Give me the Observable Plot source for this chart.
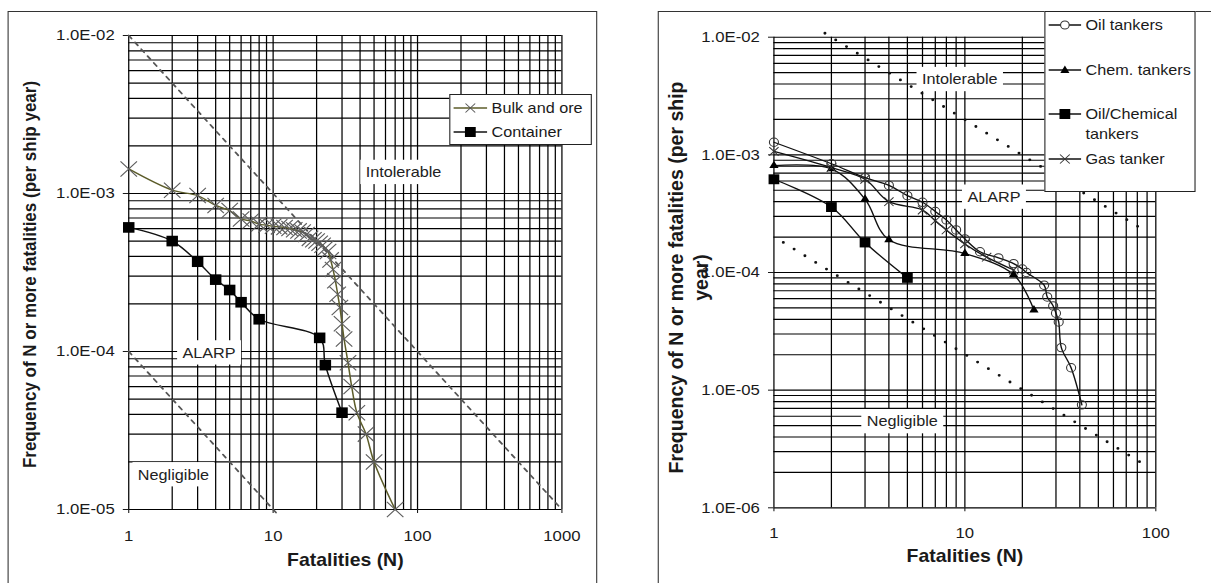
<!DOCTYPE html>
<html><head><meta charset="utf-8">
<script src="https://cdn.jsdelivr.net/npm/d3@7"></script>
<script src="https://cdn.jsdelivr.net/npm/@observablehq/plot@0.6"></script>
<style>
html,body{margin:0;padding:0;background:#fff;overflow:hidden;width:1211px;height:583px;}
#wrap{position:absolute;left:0;top:0;width:1121px;height:583px;transform:scaleX(1.08);transform-origin:0 0;font-family:"Liberation Sans",Arial,sans-serif;}
.panel{position:absolute;top:0;}
.frame{position:absolute;border:1.5px solid #333;box-sizing:border-box;pointer-events:none;}
.legend{position:absolute;background:#fff;border:1.5px solid #222;box-sizing:border-box;font-size:15px;color:#1a1a1a;line-height:20px;}
.item{position:absolute;white-space:nowrap;}
.item svg{position:absolute;left:0;top:0;overflow:visible;}
</style></head><body><div id="wrap"></div><script>
// ---------- Left panel data (bulk carriers / containers) ----------
const bulkN = [1,2,3,4,5,6,7,8,9,10,11,12,13,14,15,16,17,18,19,20,21,22,23,24,25,26,27,28,29,30,31,33,35,38,44,50,70];
const bulkF = [1.43e-3,1.05e-3,9.7e-4,8.4e-4,7.8e-4,6.9e-4,6.7e-4,6.4e-4,6.3e-4,6.2e-4,6.15e-4,6.1e-4,6.0e-4,5.9e-4,5.8e-4,5.7e-4,5.5e-4,5.2e-4,5.1e-4,5.0e-4,4.85e-4,4.7e-4,4.5e-4,4.3e-4,3.8e-4,3.3e-4,2.8e-4,2.3e-4,1.9e-4,1.5e-4,1.2e-4,8.5e-5,6.0e-5,4.1e-5,3.0e-5,2.0e-5,1.0e-5];
const contN = [1,2,3,4,5,6,8,21,23,30];
const contF = [6.1e-4,5.0e-4,3.7e-4,2.85e-4,2.45e-4,2.05e-4,1.6e-4,1.22e-4,8.2e-5,4.1e-5];
const leftUpperN = [1,1000];
const leftUpperF = [1e-2,1e-5];
const leftLowerN = [1,11];
const leftLowerF = [1e-4,9.1e-6];
const leftZones = ["Intolerable","ALARP","Negligible"];
const leftZoneN = [80,3.6,2.04];
const leftZoneF = [1.36e-3,9.8e-5,1.66e-5];
const leftXTicks = [1,10,100,1000];
const leftYTicks = [1e-5,1e-4,1e-3,1e-2];
const leftXDomain = [1,1000];
const leftYDomain = [1e-5,1e-2];
const leftSeries = ["Bulk and ore","Container"];

// ---------- Right panel data (tankers) ----------
const oilN = [1,2,3,4,5,6,7,8,9,10,12,15,18,20,21,26,27,29,30,31,32,36,41];
const oilF = [1.28e-3,8.4e-4,6.4e-4,5.5e-4,4.5e-4,3.95e-4,3.3e-4,2.8e-4,2.3e-4,1.93e-4,1.5e-4,1.33e-4,1.19e-4,1.07e-4,1.0e-4,7.8e-5,6.2e-5,5.2e-5,4.5e-5,3.8e-5,2.3e-5,1.55e-5,7.5e-6];
const chemN = [1,2,3,4,10,18,23];
const chemF = [8.1e-4,7.6e-4,4.2e-4,1.9e-4,1.45e-4,9.6e-5,4.8e-5];
const oilChemN = [1,2,3,5];
const oilChemF = [6.2e-4,3.6e-4,1.8e-4,9.0e-5];
const gasN = [1,2,3,4,6,7,8,10,13,18];
const gasF = [1.07e-3,7.8e-4,6.2e-4,4.0e-4,3.4e-4,2.75e-4,2.3e-4,1.75e-4,1.35e-4,1.05e-4];
const rightUpperN = [1.85,90];
const rightUpperF = [1.08e-2,2.2e-4];
const rightLowerN = [1.12,90];
const rightLowerF = [1.8e-4,2.25e-6];
const rightZones = ["Intolerable","ALARP","Negligible"];
const rightZoneN = [9.4,14.2,4.7];
const rightZoneF = [4.37e-3,4.37e-4,5.4e-6];
const rightXTicks = [1,10,100];
const rightYTicks = [1e-6,1e-5,1e-4,1e-3,1e-2];
const rightXDomain = [1,100];
const rightYDomain = [1e-6,1e-2];
const rightSeries = ["Oil tankers","Chem. tankers","Oil/Chemical\ntankers","Gas tanker"];

const xTitle = "Fatalities (N)";
const yTitleLeft = "Frequency of N or more fatalities (per ship year)";
const yTitleRight = "Frequency of N or more fatalities (per ship\nyear)";

// ---------- helpers ----------
const pts = (N, F) => N.map((n, i) => ({N: n, F: F[i]}));
const zonesOf = (L, N, F) => L.map((l, i) => ({label: l, N: N[i], F: F[i]}));
const fmtE = d => { const e = Math.round(Math.log10(d)); return "1.0E" + (e < 0 ? "-" : "+") + String(Math.abs(e)).padStart(2, "0"); };
const FONT = "Liberation Sans, Arial, sans-serif";
const INK = "#1a1a1a";

function addBoxes(svg) {
  svg.querySelectorAll('g[aria-description="zone-labels"] text').forEach(t => {
    const b = t.getBBox();
    const r = document.createElementNS("http://www.w3.org/2000/svg", "rect");
    r.setAttribute("x", b.x - 5); r.setAttribute("y", b.y - 4);
    r.setAttribute("width", b.width + 10); r.setAttribute("height", b.height + 8);
    r.setAttribute("fill", "#fff"); r.setAttribute("stroke", "none");
    if (t.getAttribute("transform")) r.setAttribute("transform", t.getAttribute("transform"));
    t.parentNode.insertBefore(r, t);
  });
}

function panel(cfg) {
  const xGrid = d3.scaleLog().domain(cfg.xDomain).ticks();
  const yGrid = d3.scaleLog().domain(cfg.yDomain).ticks();
  return Plot.plot({
    width: cfg.width, height: 583,
    marginLeft: cfg.mL, marginRight: cfg.mR, marginTop: cfg.mT, marginBottom: cfg.mB,
    style: {background: "transparent", overflow: "visible", maxWidth: "none", fontFamily: FONT, color: INK},
    x: {type: "log", domain: cfg.xDomain},
    y: {type: "log", domain: cfg.yDomain},
    marks: [
      Plot.ruleX(xGrid, {stroke: "#000", strokeWidth: 1.15}),
      Plot.ruleY(yGrid, {stroke: "#000", strokeWidth: 1.15}),
      Plot.axisY({ticks: cfg.yTicks, tickFormat: fmtE, tickSize: 5, tickPadding: 8, fontSize: 15.5, label: null, color: INK}),
      Plot.axisX({ticks: cfg.xTicks, tickFormat: d => String(d), tickSize: 4, tickPadding: cfg.xPad, fontSize: 15.5, label: null, color: INK}),
      ...cfg.refLines,
      Plot.text(cfg.zones, {x: "N", y: "F", text: "label", fontSize: 15, fill: "#222", ariaDescription: "zone-labels"}),
      ...cfg.series,
      Plot.text([cfg.yTitle], {text: d => d, frameAnchor: "left", textAnchor: "middle", rotate: -90, dx: cfg.yTitleDx, dy: cfg.yTitleDy, fontSize: cfg.yTitleSize, fontWeight: "bold", lineHeight: 1.2, fill: INK}),
      Plot.text([xTitle], {text: d => d, frameAnchor: "bottom", dy: cfg.xTitleDy, fontSize: 18, fontWeight: "bold", fill: INK})
    ]
  });
}

const wrap = document.getElementById("wrap");
function place(svg, left) {
  const d = document.createElement("div");
  d.className = "panel"; d.style.left = left + "px";
  d.appendChild(svg); wrap.appendChild(d);
  addBoxes(svg);
}

// ---------- Left panel ----------
const left = panel({
  width: 560, mL: 118.7, mR: 40.2, mT: 35, mB: 74, xPad: 16.6,
  xDomain: leftXDomain, yDomain: leftYDomain, xTicks: leftXTicks, yTicks: leftYTicks,
  zones: zonesOf(leftZones, leftZoneN, leftZoneF),
  yTitle: yTitleLeft, yTitleDx: -92.7, yTitleDy: 2, yTitleSize: 17, xTitleDy: 56,
  refLines: [
    Plot.line(pts(leftUpperN, leftUpperF), {x: "N", y: "F", stroke: "#555", strokeWidth: 1.7, strokeDasharray: "4,5"}),
    Plot.line(pts(leftLowerN, leftLowerF), {x: "N", y: "F", stroke: "#555", strokeWidth: 1.7, strokeDasharray: "4,5"})
  ],
  series: [
    Plot.line(pts(bulkN, bulkF), {x: "N", y: "F", stroke: "#5c5c2a", strokeWidth: 1.4, curve: "catmull-rom"}),
    Plot.dot(pts(bulkN, bulkF), {x: "N", y: "F", symbol: "times", r: 7, stroke: "#5e5e5e", strokeWidth: 1.1}),
    Plot.line(pts(contN, contF), {x: "N", y: "F", stroke: "#111", strokeWidth: 1.4, curve: "catmull-rom"}),
    Plot.dot(pts(contN, contF), {x: "N", y: "F", symbol: "square", r: 6, fill: "#000", stroke: "none"})
  ]
});
place(left, 0);

// ---------- Right panel ----------
const right = panel({
  width: 521, mL: 116.1, mR: 51.3, mT: 36.7, mB: 75.7, xPad: 15,
  xDomain: rightXDomain, yDomain: rightYDomain, xTicks: rightXTicks, yTicks: rightYTicks,
  zones: zonesOf(rightZones, rightZoneN, rightZoneF),
  yTitle: yTitleRight, yTitleDx: -80.3, yTitleDy: 5, yTitleSize: 19.5, xTitleDy: 54,
  refLines: [
    Plot.line(pts(rightUpperN, rightUpperF), {x: "N", y: "F", stroke: "#111", strokeWidth: 2.8, strokeDasharray: "0,12", strokeLinecap: "round"}),
    Plot.line(pts(rightLowerN, rightLowerF), {x: "N", y: "F", stroke: "#111", strokeWidth: 2.8, strokeDasharray: "0,12", strokeLinecap: "round"})
  ],
  series: [
    Plot.line(pts(oilN, oilF), {x: "N", y: "F", stroke: "#111", strokeWidth: 1.3, curve: "catmull-rom"}),
    Plot.line(pts(chemN, chemF), {x: "N", y: "F", stroke: "#111", strokeWidth: 1.3, curve: "catmull-rom"}),
    Plot.line(pts(oilChemN, oilChemF), {x: "N", y: "F", stroke: "#111", strokeWidth: 1.3, curve: "catmull-rom"}),
    Plot.line(pts(gasN, gasF), {x: "N", y: "F", stroke: "#111", strokeWidth: 1.3, curve: "catmull-rom"}),
    Plot.dot(pts(oilN, oilF), {x: "N", y: "F", symbol: "circle", r: 4.2, fill: "none", stroke: "#333", strokeWidth: 1}),
    Plot.dot(pts(chemN, chemF), {x: "N", y: "F", symbol: "triangle", r: 3.2, fill: "#000", stroke: "none"}),
    Plot.dot(pts(oilChemN, oilChemF), {x: "N", y: "F", symbol: "square", r: 5.6, fill: "#000", stroke: "none"}),
    Plot.dot(pts(gasN, gasF), {x: "N", y: "F", symbol: "times", r: 4, stroke: "#333", strokeWidth: 1})
  ]
});
place(right, 600);

// ---------- frames ----------
function frame(l, t, w, h) {
  const f = document.createElement("div");
  f.className = "frame";
  Object.assign(f.style, {left: l + "px", top: t + "px", width: w + "px", height: h + "px"});
  wrap.appendChild(f);
}
frame(7.1, 11.2, 545.7, 640);
frame(609, 11.2, 700, 640);

// ---------- legends ----------
const symbols = {
  times: (c) => `<line x1="-4.5" y1="-4.5" x2="4.5" y2="4.5" stroke="${c}"/><line x1="-4.5" y1="4.5" x2="4.5" y2="-4.5" stroke="${c}"/>`,
  square: () => `<rect x="-5" y="-5" width="10" height="10" fill="#000"/>`,
  circle: () => `<circle r="4" fill="#fff" stroke="#333"/>`,
  triangle: () => `<path d="M0,-4.5L4.2,3L-4.2,3Z" fill="#000"/>`
};
function legend(box, items) {
  const lg = document.createElement("div");
  lg.className = "legend";
  Object.assign(lg.style, {left: box.l + "px", top: box.t + "px", width: box.w + "px", height: box.h + "px"});
  items.forEach(it => {
    const row = document.createElement("div");
    row.className = "item";
    row.style.left = box.sx + "px"; row.style.top = (it.y - 10) + "px";
    row.innerHTML = `<svg width="${box.sw}" height="20"><line x1="0" y1="10" x2="${box.sw}" y2="10" stroke="${it.line}" stroke-width="1.3"/><g transform="translate(${box.sw / 2},10)">${symbols[it.sym](it.mc)}</g></svg>` +
      `<div style="position:absolute;left:${box.tx - box.sx}px;top:0;white-space:pre;">${it.label}</div>`;
    lg.appendChild(row);
  });
  wrap.appendChild(lg);
}
legend({l: 415.7, t: 94.3, w: 132.8, h: 50.7, sx: 3.5, sw: 31, tx: 38.5}, [
  {label: leftSeries[0], y: 13.2, sym: "times", mc: "#555", line: "#5c5c2a"},
  {label: leftSeries[1], y: 36.9, sym: "square", line: "#111"}
]);
legend({l: 966.7, t: 11.2, w: 140.7, h: 181, sx: 3.4, sw: 30, tx: 37.4}, [
  {label: rightSeries[0], y: 13.3, sym: "circle", line: "#111"},
  {label: rightSeries[1], y: 58.3, sym: "triangle", line: "#111"},
  {label: rightSeries[2], y: 102.3, sym: "square", line: "#111"},
  {label: rightSeries[3], y: 147.3, sym: "times", mc: "#333", line: "#111"}
]);
</script></body></html>
